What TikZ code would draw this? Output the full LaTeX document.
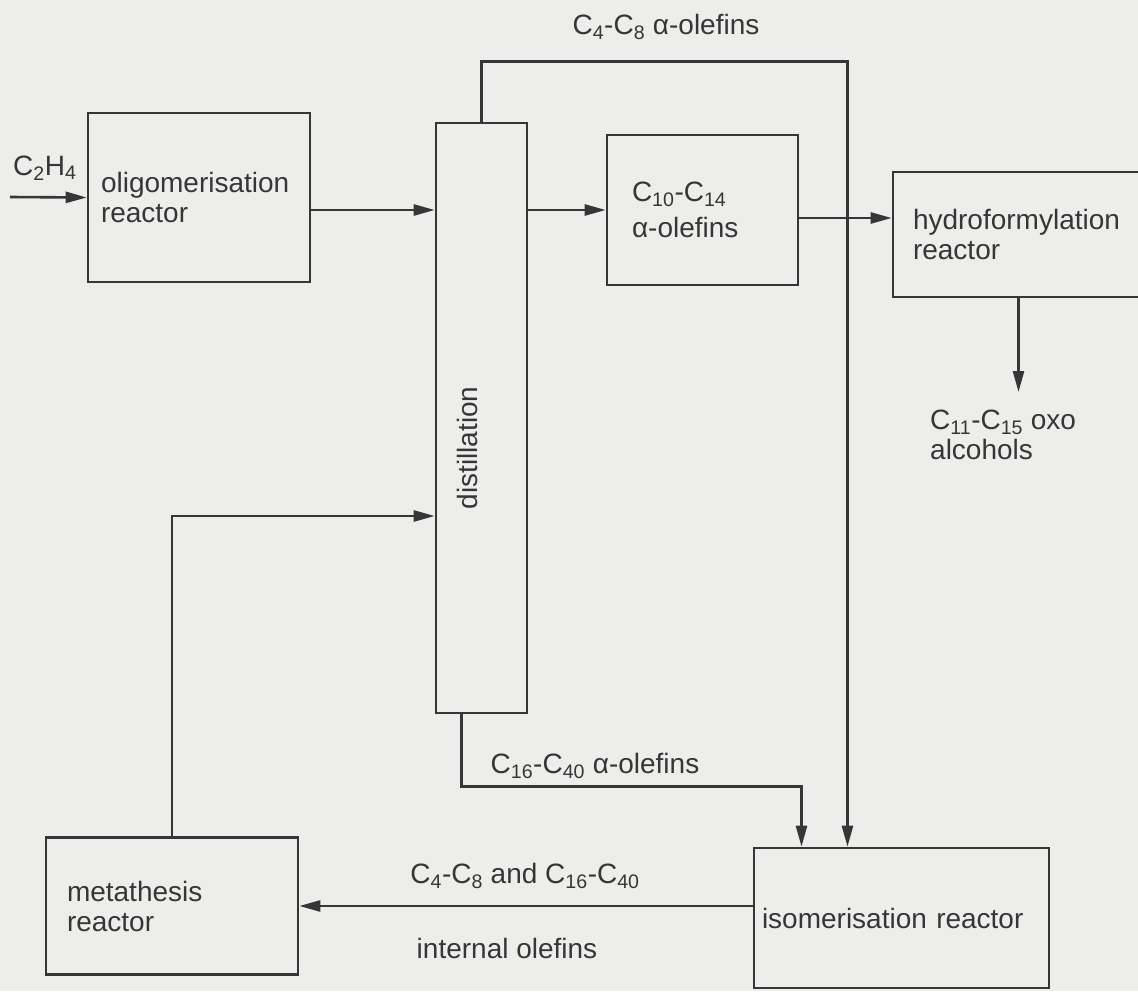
\documentclass[tikz,border=0pt]{standalone}
\usepackage{fontspec}
\setmainfont{Liberation Sans}
\usepackage{xcolor}
\usetikzlibrary{arrows.meta,calc}
\definecolor{ink}{HTML}{363636}
\definecolor{paper}{HTML}{EDEDEB}
\newcommand{\fsize}{\fontsize{28}{30}\selectfont}
\tikzset{
  unit/.style={draw=ink, line width=2.6pt, align=left, font=\fsize,
               text=ink, inner ysep=0pt},
  flow/.style={-{Triangle[length=21pt, width=11pt]}, draw=ink, line width=2.6pt},
  % stream names, set free beside the lines
  lbl/.style={font=\fsize, text=ink, inner sep=0pt, align=left},
}

\begin{document}
\begin{tikzpicture}[x=1pt, y=-1pt]

\useasboundingbox (0,0) rectangle (1138,991);
\fill[paper] (0,0) rectangle (1138,991);
\clip (0,0) rectangle (1138,991);

%% ── units along the top ───────────────────────────────────────────────────
\node[unit, minimum width=222pt, minimum height=169pt, inner xsep=13pt,
      text width=196pt] (olig) at (199,197.5) {oligomerisation\\reactor};
\node[unit, minimum width=91pt, minimum height=590pt] (dist) at (481.5,418) {};
\node[lbl, rotate=90] (distlbl) at ([xshift=-14pt,yshift=-30pt]dist.center) {distillation};
\node[unit, minimum width=191pt, minimum height=150pt, inner xsep=25pt,
      text width=141pt] (c10) at (702.5,210)
  {C\textsubscript{10}-C\textsubscript{14}\\[6pt]α-olefins};
\node[unit, minimum width=267pt, minimum height=125pt, inner xsep=20pt,
      text width=227pt] (hydro) at (1026.5,234.5) {hydroformylation\\reactor};

%% ── units along the bottom ────────────────────────────────────────────────
\node[unit, minimum width=252pt, minimum height=137pt, inner xsep=21pt,
      text width=210pt] (meta) at (172,906) {metathesis\\reactor};
\node[unit, minimum width=295pt, minimum height=140pt, inner xsep=8pt,
      text width=279pt] (iso) at (901.5,918) {isomerisation reactor};

%% ── feed and product ──────────────────────────────────────────────────────
\coordinate (feed) at (10,197);
\node[lbl, anchor=base west] (feedlbl) at (13,175) {C\textsubscript{2}H\textsubscript{4}};
\draw[flow] (feed) -- (olig.west);

\node[lbl, anchor=north west] (oxo) at (930,410)
  {C\textsubscript{11}-C\textsubscript{15} oxo\\alcohols};
\draw[flow, shorten >=18pt] ([xshift=-8pt]hydro.south) -- ([xshift=-8pt]hydro.south |- oxo.north);

%% ── main line, left to right ──────────────────────────────────────────────
\draw[flow] (olig.east |- c10.west) -- (dist.west |- c10.west);
\draw[flow] (dist.east |- c10.west) -- (c10.west);
\draw[flow] ([yshift=-8pt]c10.east) -- ([yshift=-8pt]c10.east -| hydro.west);

%% ── light and heavy cuts go to isomerisation ──────────────────────────────
\draw[flow] (dist.north) -- ++(0,-60) -| ([xshift=-54pt]iso.north);
\node[lbl] (lightlbl) at (666,27) {C\textsubscript{4}-C\textsubscript{8} α-olefins};

\draw[flow] ([xshift=-20pt]dist.south) -- ++(0,72) -| ([xshift=-100pt]iso.north);
\node[lbl] (heavylbl) at (595,766) {C\textsubscript{16}-C\textsubscript{40} α-olefins};

%% ── internal olefins to metathesis, and back to the column ────────────────
\draw[flow] (iso.west |- meta.east) -- (meta.east);
\node[lbl] (intlbl1) at (525,876) {C\textsubscript{4}-C\textsubscript{8} and C\textsubscript{16}-C\textsubscript{40}};
\node[lbl] (intlbl2) at (507,948) {internal olefins};

\draw[flow] (meta.north) |- ([yshift=-98pt]dist.west);

\end{tikzpicture}
\end{document}
